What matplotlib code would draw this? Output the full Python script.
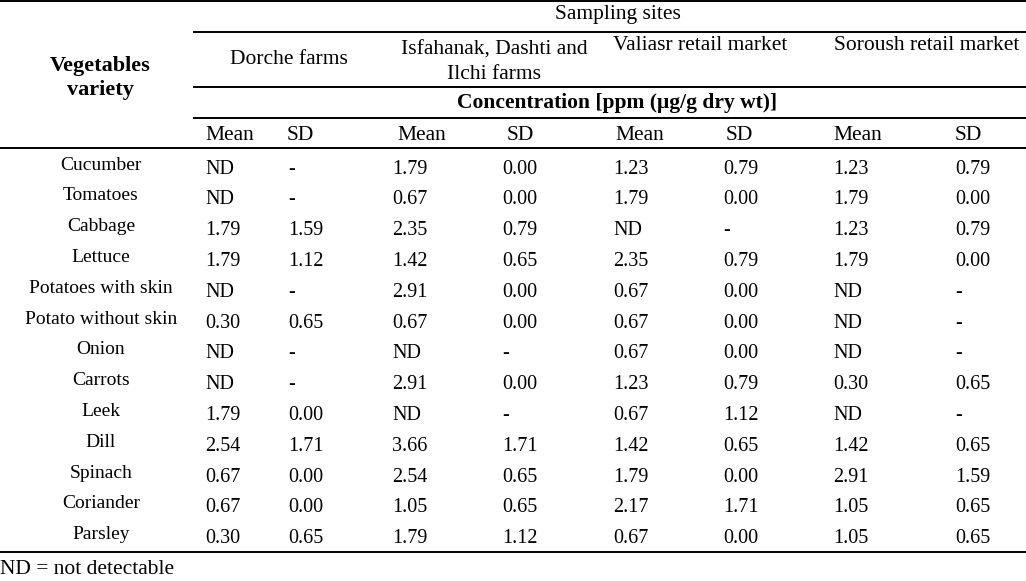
import matplotlib.pyplot as plt

plt.rcParams['font.family'] = ['Liberation Serif', 'DejaVu Serif']

# table contents
vegetables = ['Cucumber', 'Tomatoes', 'Cabbage', 'Lettuce', 'Potatoes with skin',
              'Potato without skin', 'Onion', 'Carrots', 'Leek', 'Dill', 'Spinach',
              'Coriander', 'Parsley']
sites = ['Dorche farms', 'Isfahanak, Dashti and\nIlchi farms',
         'Valiasr retail market', 'Soroush retail market']

dorche_mean = ['ND', 'ND', '1.79', '1.79', 'ND', '0.30', 'ND', 'ND', '1.79', '2.54', '0.67', '0.67', '0.30']
dorche_sd = ['-', '-', '1.59', '1.12', '-', '0.65', '-', '-', '0.00', '1.71', '0.00', '0.00', '0.65']
isfahanak_mean = ['1.79', '0.67', '2.35', '1.42', '2.91', '0.67', 'ND', '2.91', 'ND', '3.66', '2.54', '1.05', '1.79']
isfahanak_sd = ['0.00', '0.00', '0.79', '0.65', '0.00', '0.00', '-', '0.00', '-', '1.71', '0.65', '0.65', '1.12']
valiasr_mean = ['1.23', '1.79', 'ND', '2.35', '0.67', '0.67', '0.67', '1.23', '0.67', '1.42', '1.79', '2.17', '0.67']
valiasr_sd = ['0.79', '0.00', '-', '0.79', '0.00', '0.00', '0.00', '0.79', '1.12', '0.65', '0.00', '1.71', '0.00']
soroush_mean = ['1.23', '1.79', '1.23', '1.79', 'ND', 'ND', 'ND', '0.30', 'ND', '1.42', '2.91', '1.05', '1.05']
soroush_sd = ['0.79', '0.00', '0.79', '0.00', '-', '-', '-', '0.65', '-', '0.65', '1.59', '0.65', '0.65']

columns = [dorche_mean, dorche_sd, isfahanak_mean, isfahanak_sd,
           valiasr_mean, valiasr_sd, soroush_mean, soroush_sd]

# layout in pixels
W, H = 1026, 581
col_x = [205, 288, 392, 502, 613, 723, 833, 955]
head_x = [205, 287, 397, 507, 615, 726, 833, 955]
site_x = [289, 494, 700, 927]
row0 = 169
row_h = 30.8
fs_label = 14
fs_num = 14.5
fs_head = 15.5

fig = plt.figure(figsize=(W / 100, H / 100), dpi=100)
ax = fig.add_axes([0, 0, 1, 1])
ax.set_xlim(0, W)
ax.set_ylim(H, 0)
ax.axis('off')

# rules
lw = 1.4
ax.plot([0, W], [1, 1], color='black', lw=lw)
for y in [32, 87, 117.5]:
    ax.plot([194, W], [y, y], color='black', lw=lw)
ax.plot([0, W], [148, 148], color='black', lw=lw)
ax.plot([0, W], [552, 552], color='black', lw=lw)

# header
ax.text(100, 78, 'Vegetables\nvariety', ha='center', va='center', fontsize=16,
        fontweight='bold', linespacing=1.22)
ax.text(618, 15, 'Sampling sites', ha='center', va='center', fontsize=fs_head)
for i, (x, s) in enumerate(zip(site_x, sites)):
    if '\n' in s:
        ax.text(x, 62, s, ha='center', va='center', fontsize=fs_head, linespacing=1.4)
    elif i == 0:
        ax.text(x, 60, s, ha='center', va='center', fontsize=fs_head)
    else:
        ax.text(x, 46, s, ha='center', va='center', fontsize=fs_head)
ax.text(617, 103, 'Concentration [ppm (μg/g dry wt)]', ha='center', va='center',
        fontsize=fs_head, fontweight='bold')
for i, x in enumerate(head_x):
    ax.text(x, 136, 'Mean' if i % 2 == 0 else 'SD', ha='left', va='center', fontsize=fs_head)

# body
for r, veg in enumerate(vegetables):
    y = row0 + r * row_h
    ax.text(101, y - 4, veg, ha='center', va='center', fontsize=fs_label)
    for x, col in zip(col_x, columns):
        ax.text(x, y, col[r], ha='left', va='center', fontsize=fs_num)

ax.text(0, 570, 'ND = not detectable', ha='left', va='center', fontsize=fs_head)

fig.savefig('out.png', dpi=100)
